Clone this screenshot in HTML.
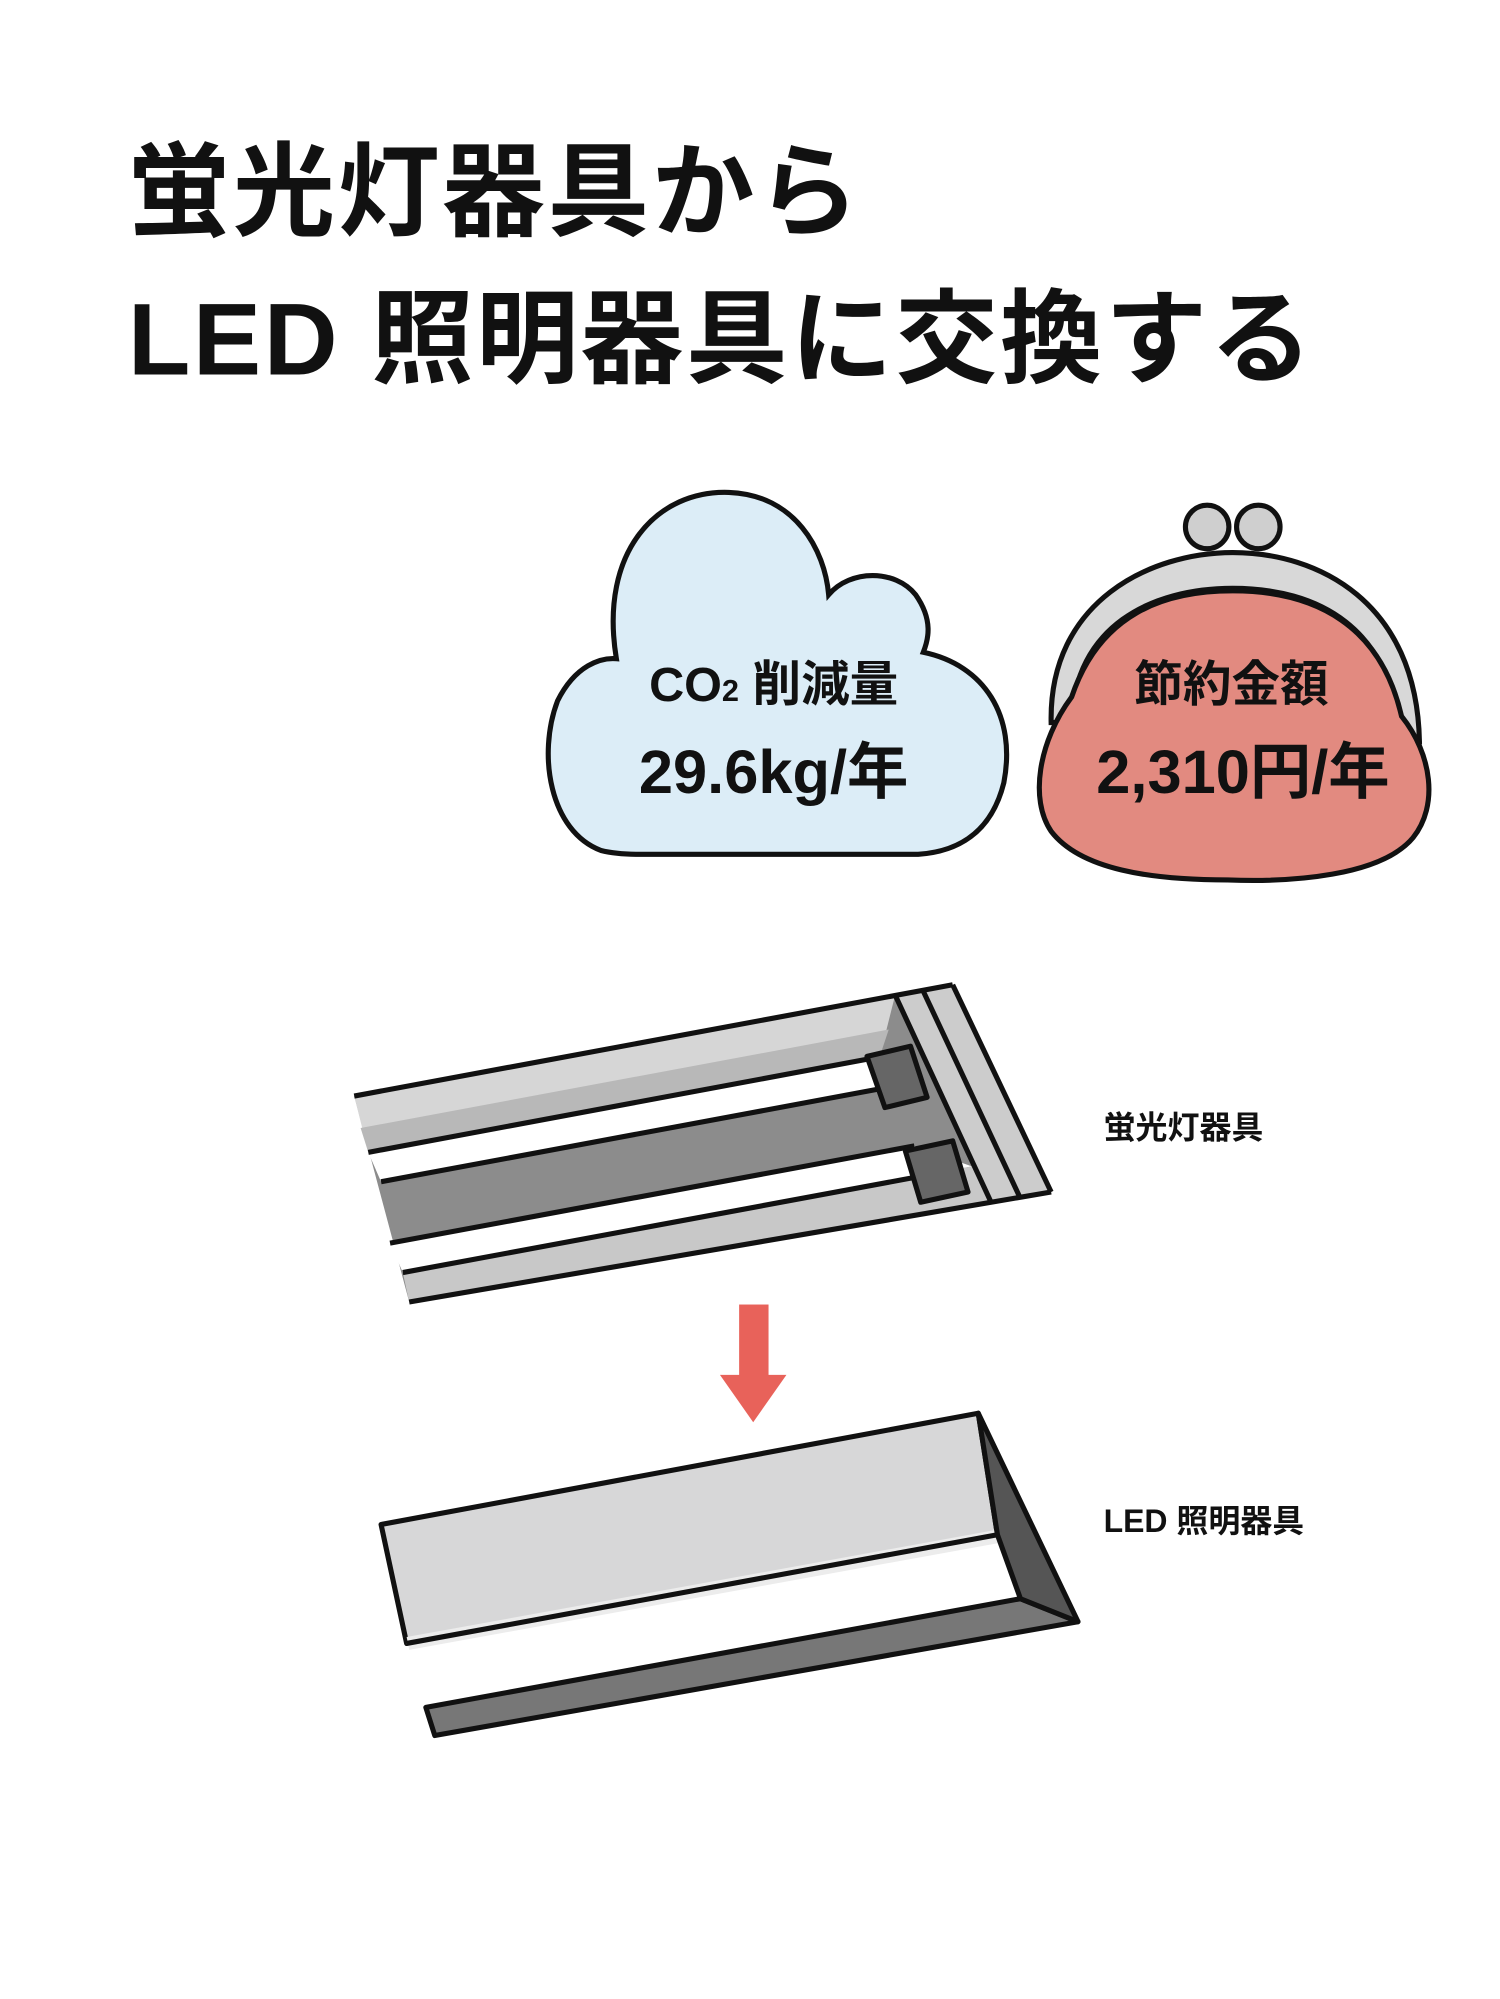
<!DOCTYPE html>
<html><head><meta charset="utf-8"><style>
html,body{margin:0;padding:0;background:#fff;}
svg{display:block;}
text{font-family:"Liberation Sans","Noto Sans CJK JP",sans-serif;font-weight:700;fill:#111;}
</style></head><body>
<svg width="1500" height="1999" viewBox="0 0 1173 1563" preserveAspectRatio="none" xmlns="http://www.w3.org/2000/svg">
<rect width="1173" height="1563" fill="#fff"/>
<text x="100" y="178" font-size="80" letter-spacing="2">蛍光灯器具から</text>
<text x="100" y="293" font-size="80" letter-spacing="2">LED 照明器具に交換する</text>

<!-- cloud -->
<path d="M470 665 C430 650 420 590 436 548 C450 520 470 514 482 515 C468 430 515 383 570 385 C622 387 645 430 648 465 C665 445 700 445 716 465 C730 485 726 500 722 510 C770 520 795 560 785 612 C775 652 748 666 718 668 L500 668 C488 668 478 667 470 665 Z" fill="#dcedf7" stroke="#111" stroke-width="4"/>
<text x="605" y="548" font-size="38" text-anchor="middle">CO<tspan font-size="24">2</tspan> 削減量</text>
<text x="605" y="620" font-size="48" text-anchor="middle">29.6kg/年</text>

<!-- purse -->
<circle cx="944" cy="412" r="17" fill="#cfcfcf" stroke="#111" stroke-width="4"/>
<circle cx="984" cy="412" r="17" fill="#cfcfcf" stroke="#111" stroke-width="4"/>
<path d="M822 565 C820 470 900 432 964 432 C1030 432 1108 470 1110 580 L1095 580 C1090 490 1030 460 964 460 C900 460 840 490 838 565 Z" fill="#d8d8d8" stroke="#111" stroke-width="4"/>
<path d="M838 545 C860 480 910 462 964 462 C1030 462 1080 490 1096 560 C1120 590 1125 630 1105 655 C1080 685 1010 690 960 688 C900 688 845 680 822 650 C805 625 812 580 838 545 Z" fill="#e28a80" stroke="#111" stroke-width="4"/>
<text x="963" y="548" font-size="38" text-anchor="middle">節約金額</text>
<text x="972" y="620" font-size="48" text-anchor="middle">2,310円/年</text>

<!-- fluorescent fixture -->
<polygon points="277,857 745,770 822,932 320,1018" fill="#8c8c8c"/>
<polygon points="277,857 700,778 688,826 288,901" fill="#d6d6d6"/>
<polygon points="282,882 695,805 688,826 288,901" fill="#b8b8b8"/>
<polygon points="288,901 690,826 690,851 298,924" fill="#fff"/>
<polygon points="305,972 715,896 760,912 315,995" fill="#fff"/>
<polygon points="315,995 760,912 822,932 320,1018" fill="#c8c8c8"/>
<polygon points="700,778 745,770 822,932 775,940" fill="#cccccc"/>
<g stroke="#111" stroke-width="4" stroke-linejoin="round" fill="none">
<line x1="277" y1="857" x2="745" y2="770"/>
<line x1="745" y1="770" x2="822" y2="932"/>
<line x1="700" y1="778" x2="775" y2="940"/>
<line x1="722" y1="775" x2="797" y2="935"/>
<line x1="288" y1="901" x2="690" y2="826"/>
<line x1="298" y1="924" x2="690" y2="851"/>
<line x1="305" y1="972" x2="715" y2="896"/>
<line x1="315" y1="995" x2="740" y2="916"/>
<line x1="320" y1="1018" x2="822" y2="932"/>
<polygon points="678,826 712,818 725,858 692,866" fill="#666"/>
<polygon points="708,900 745,892 757,932 720,940" fill="#666"/>
</g>
<text x="863" y="890" font-size="25">蛍光灯器具</text>

<!-- arrow -->
<rect x="578" y="1020" width="23" height="56" fill="#e8625a"/>
<polygon points="563,1075 615,1075 589,1112" fill="#e8625a"/>

<!-- LED fixture -->
<g stroke="#111" stroke-width="4" stroke-linejoin="round">
<polygon points="298,1192 765,1105 780,1200 318,1285" fill="#d7d7d8"/>
<polygon points="318,1285 780,1200 798,1250 335,1335" fill="#fff" stroke="none"/>
<polygon points="318,1280 780,1196 784,1206 320,1290" fill="#ececec" stroke="none"/>
<line x1="318" y1="1285" x2="780" y2="1200"/>
<polygon points="333,1335 798,1250 843,1268 340,1357" fill="#777"/>
<polygon points="765,1105 843,1268 798,1250 780,1200" fill="#555"/>
</g>
<text x="863" y="1198" font-size="25">LED 照明器具</text>
</svg>
</body></html>
